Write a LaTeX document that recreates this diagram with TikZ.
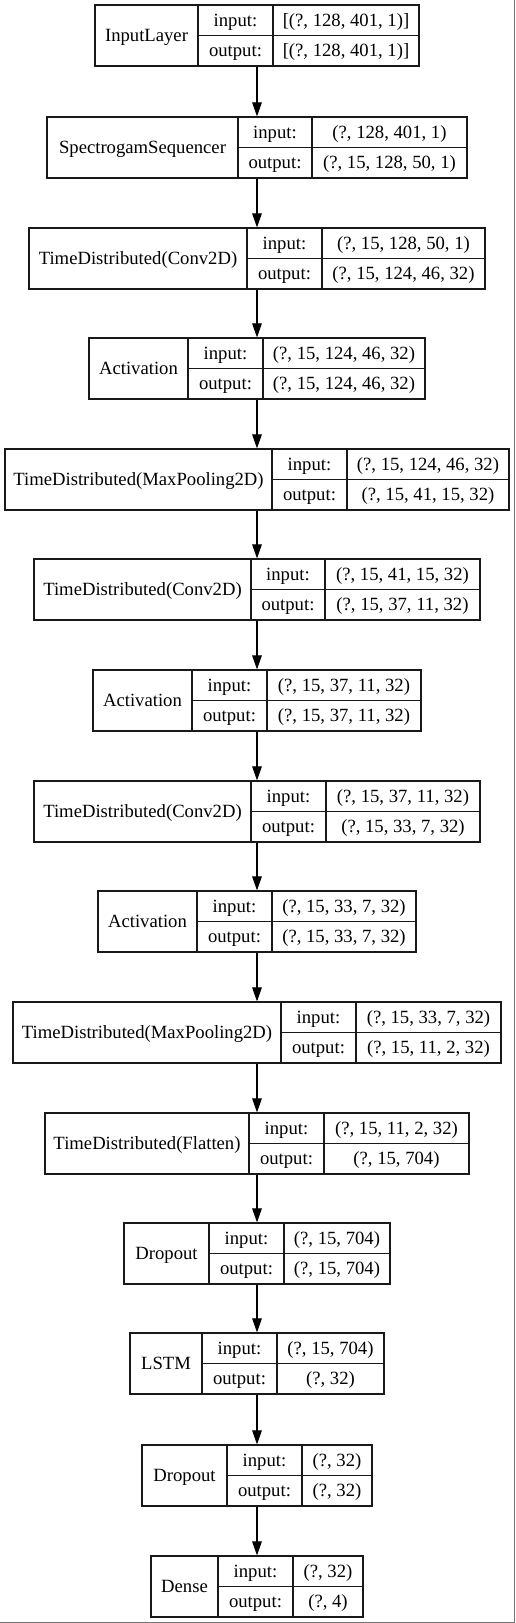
\documentclass[tikz,border=0pt]{standalone}
\usepackage{fontspec}
\setmainfont{Liberation Serif}
\usetikzlibrary{arrows.meta}
\tikzstyle{layerbox}=[draw=black!90, line width=0.9pt]
\tikzstyle{cellline}=[draw=black!90, line width=0.9pt]
\tikzstyle{celltext}=[inner sep=0pt, text height=9.3pt, text depth=0pt, font=\fontsize{14}{16}\selectfont]
\tikzstyle{flow}=[line width=0.8pt, -{Triangle[length=10.5pt, width=7.2pt]}]
\tikzstyle{frame}=[draw=black!55, line width=0.9pt]

% one layer: name, top, left, first split, second split, right, title, input, output
\newcommand{\layer}[9]{%
	\node[layerbox, minimum width={(#6-#3)*0.75pt}, minimum height=45.75pt] (#1) at ({(#3+#6)/2},{#2+30.5}) {};
	\draw[cellline] (#4,#2) -- (#4,{#2+61});
	\draw[cellline] (#5,#2) -- (#5,{#2+61});
	\draw[cellline] (#4,{#2+30.5}) -- (#6,{#2+30.5});
	\node[celltext] (#1-name) at ({(#3+#4)/2},{#2+30.5}) {#7};
	\node[celltext] (#1-inlab) at ({(#4+#5)/2},{#2+15.25}) {input:};
	\node[celltext] (#1-outlab) at ({(#4+#5)/2},{#2+45.75}) {output:};
	\node[celltext] (#1-in) at ({(#5+#6)/2},{#2+15.25}) {#8};
	\node[celltext] (#1-out) at ({(#5+#6)/2},{#2+45.75}) {#9};
}

\begin{document}
\begin{tikzpicture}[x=0.75pt, y=-0.75pt]
		\useasboundingbox (0,0) rectangle (515,1623);
		\draw[frame] (514.5,0) -- (514.5,1622.5) -- (0,1622.5);
		\layer{l1}{5}{95}{198}{273}{419}{InputLayer}{[(?, 128, 401, 1)]}{[(?, 128, 401, 1)]}
		\layer{l2}{117}{47}{238}{312}{467}{SpectrogamSequencer}{(?, 128, 401, 1)}{(?, 15, 128, 50, 1)}
		\layer{l3}{228}{29}{247}{322}{485}{TimeDistributed(Conv2D)}{(?, 15, 128, 50, 1)}{(?, 15, 124, 46, 32)}
		\layer{l4}{338}{89}{188}{263}{425}{Activation}{(?, 15, 124, 46, 32)}{(?, 15, 124, 46, 32)}
		\layer{l5}{449}{5}{272}{347}{509}{TimeDistributed(MaxPooling2D)}{(?, 15, 124, 46, 32)}{(?, 15, 41, 15, 32)}
		\layer{l6}{559}{34}{251}{325}{480}{TimeDistributed(Conv2D)}{(?, 15, 41, 15, 32)}{(?, 15, 37, 11, 32)}
		\layer{l7}{670}{93}{192}{267}{421}{Activation}{(?, 15, 37, 11, 32)}{(?, 15, 37, 11, 32)}
		\layer{l8}{781}{34}{251}{326}{480}{TimeDistributed(Conv2D)}{(?, 15, 37, 11, 32)}{(?, 15, 33, 7, 32)}
		\layer{l9}{891}{98}{197}{272}{416}{Activation}{(?, 15, 33, 7, 32)}{(?, 15, 33, 7, 32)}
		\layer{l10}{1002}{13}{281}{356}{501}{TimeDistributed(MaxPooling2D)}{(?, 15, 33, 7, 32)}{(?, 15, 11, 2, 32)}
		\layer{l11}{1113}{45}{249}{324}{469}{TimeDistributed(Flatten)}{(?, 15, 11, 2, 32)}{(?, 15, 704)}
		\layer{l12}{1223}{124}{209}{284}{390}{Dropout}{(?, 15, 704)}{(?, 15, 704)}
		\layer{l13}{1333}{130}{202}{277}{384}{LSTM}{(?, 15, 704)}{(?, 32)}
		\layer{l14}{1445}{142}{227}{302}{372}{Dropout}{(?, 32)}{(?, 32)}
		\layer{l15}{1556}{151}{218}{293}{363}{Dense}{(?, 32)}{(?, 4)}
		\draw[flow] (l1) -- (l2);
		\draw[flow] (l2) -- (l3);
		\draw[flow] (l3) -- (l4);
		\draw[flow] (l4) -- (l5);
		\draw[flow] (l5) -- (l6);
		\draw[flow] (l6) -- (l7);
		\draw[flow] (l7) -- (l8);
		\draw[flow] (l8) -- (l9);
		\draw[flow] (l9) -- (l10);
		\draw[flow] (l10) -- (l11);
		\draw[flow] (l11) -- (l12);
		\draw[flow] (l12) -- (l13);
		\draw[flow] (l13) -- (l14);
		\draw[flow] (l14) -- (l15);
	\end{tikzpicture}
\end{document}
